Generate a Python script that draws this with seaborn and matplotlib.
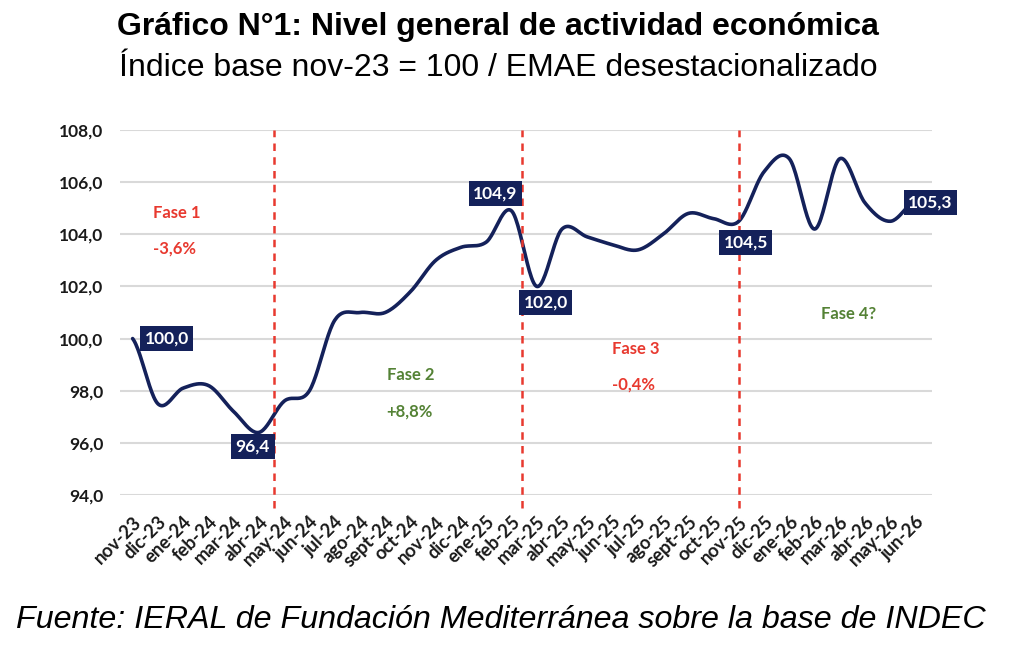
import numpy as np
import pandas as pd
import matplotlib
matplotlib.use("Agg")
import matplotlib.pyplot as plt
import seaborn as sns

# datos (indice base nov-23 = 100)
meses = ["nov-23", "dic-23", "ene-24", "feb-24", "mar-24", "abr-24", "may-24", "jun-24",
         "jul-24", "ago-24", "sept-24", "oct-24", "nov-24", "dic-24", "ene-25", "feb-25",
         "mar-25", "abr-25", "may-25", "jun-25", "jul-25", "ago-25", "sept-25", "oct-25",
         "nov-25", "dic-25", "ene-26", "feb-26", "mar-26", "abr-26", "may-26", "jun-26"]
emae = [100.0, 97.5, 98.1, 98.2, 97.2, 96.4, 97.6, 98.0,
        100.7, 101.0, 101.0, 101.8, 103.0, 103.5, 103.7, 104.9,
        102.0, 104.2, 103.9, 103.6, 103.4, 104.0, 104.8, 104.6,
        104.5, 106.4, 106.9, 104.2, 106.9, 105.2, 104.5, 105.3]

# puntos con etiqueta y su desplazamiento (pixeles)
etiq_idx = [0, 5, 15, 16, 24, 31]
etiq_off = [(34, 0), (-6, -14), (-16, 17), (9, -16), (7, -21), (15, -2)]

# cortes de fase
cortes = [5.58, 15.41, 24.0]
fases = ["Fase 1", "Fase 2", "Fase 3", "Fase 4?"]
fases_var = ["-3,6%", "+8,8%", "-0,4%", None]
fases_x = [0.79, 10.06, 18.97, 27.25]
fases_y = [104.82, 98.6, 99.6, 100.94]
fases_color = ["#e8392f", "#548235", "#e8392f", "#548235"]

NAVY = "#14215a"
RED = "#e8392f"


def suavizar(y, n=24):
    # curva suave tipo Excel (Catmull-Rom)
    y = np.asarray(y, dtype=float)
    ext = np.concatenate([[y[0]], y, [y[-1]]])
    xs, ys = [], []
    for i in range(len(y) - 1):
        p0, p1, p2, p3 = ext[i], ext[i + 1], ext[i + 2], ext[i + 3]
        m1 = (p2 - p0) / 2
        m2 = (p3 - p1) / 2
        t = np.linspace(0, 1, n, endpoint=False)
        h00 = 2 * t**3 - 3 * t**2 + 1
        h10 = t**3 - 2 * t**2 + t
        h01 = -2 * t**3 + 3 * t**2
        h11 = t**3 - t**2
        xs.extend(i + t)
        ys.extend(h00 * p1 + h10 * m1 + h01 * p2 + h11 * m2)
    xs.append(len(y) - 1)
    ys.append(y[-1])
    return pd.DataFrame({"x": xs, "y": ys})


sns.set_theme(style="white")
plt.rcParams["font.family"] = ["Lato", "DejaVu Sans"]

fig = plt.figure(figsize=(10.24, 6.51), dpi=100)
ax = fig.add_axes([120 / 1024, 1 - 495 / 651, (932 - 120) / 1024, (495 - 130) / 651])

curva = suavizar(emae)
sns.lineplot(data=curva, x="x", y="y", ax=ax, color=NAVY, linewidth=2.6, zorder=3)

ax.set_xlim(-0.5, 31.65)
ax.set_ylim(94, 108)
ax.set_yticks(np.arange(94, 108.1, 2))
ax.set_yticklabels([f"{v:.1f}".replace(".", ",") for v in np.arange(94, 108.1, 2)],
                   fontsize=12.5, fontweight="bold", color="#1a1a1a")
ax.set_xticks(range(len(meses)))
ax.set_xticklabels(meses, rotation=45, ha="right", rotation_mode="anchor",
                   fontsize=13.2, fontweight="bold", color="#1a1a1a")
ax.tick_params(axis="y", length=0, pad=12)
ax.tick_params(axis="x", length=0, pad=13)
ax.grid(axis="y", color="#d9d9d9", linewidth=1.5)
ax.grid(axis="x", visible=False)
for s in ax.spines.values():
    s.set_visible(False)
ax.set_xlabel("")
ax.set_ylabel("")

for c in cortes:
    ax.axvline(c, ymin=-0.035, ymax=1.0, color=RED, linestyle=(0, (3, 2.5)),
               linewidth=1.8, clip_on=False, zorder=4)

for i, (dx, dy) in zip(etiq_idx, etiq_off):
    ax.annotate(f"{emae[i]:.1f}".replace(".", ","), xy=(i, emae[i]),
                xytext=(dx, dy), textcoords="offset pixels",
                ha="center", va="center", fontsize=12.5, fontweight="bold", color="white",
                bbox=dict(boxstyle="square,pad=0.26", fc=NAVY, ec="none"),
                annotation_clip=False, zorder=5)

for nombre, var, fx, fy, col in zip(fases, fases_var, fases_x, fases_y, fases_color):
    ax.text(fx, fy, nombre, ha="left", va="center", fontsize=12, fontweight="bold", color=col)
    if var:
        ax.text(fx, fy - 1.38, var, ha="left", va="center", fontsize=12,
                fontweight="bold", color=col)

fig.text(498 / 1024, 1 - 27 / 651, "Gráfico N°1: Nivel general de actividad económica",
         ha="center", va="center", fontsize=23, fontweight="bold",
         family=["Liberation Sans", "DejaVu Sans"], color="black")
fig.text(498 / 1024, 1 - 68 / 651, "Índice base nov-23 = 100 / EMAE desestacionalizado",
         ha="center", va="center", fontsize=23,
         family=["Liberation Sans", "DejaVu Sans"], color="black")
fig.text(501 / 1024, 1 - 620 / 651,
         "Fuente: IERAL de Fundación Mediterránea sobre la base de INDEC",
         ha="center", va="center", fontsize=23.2, style="italic",
         family=["Liberation Sans", "DejaVu Sans"], color="black")

fig.savefig("out.png", dpi=100, facecolor="white")
